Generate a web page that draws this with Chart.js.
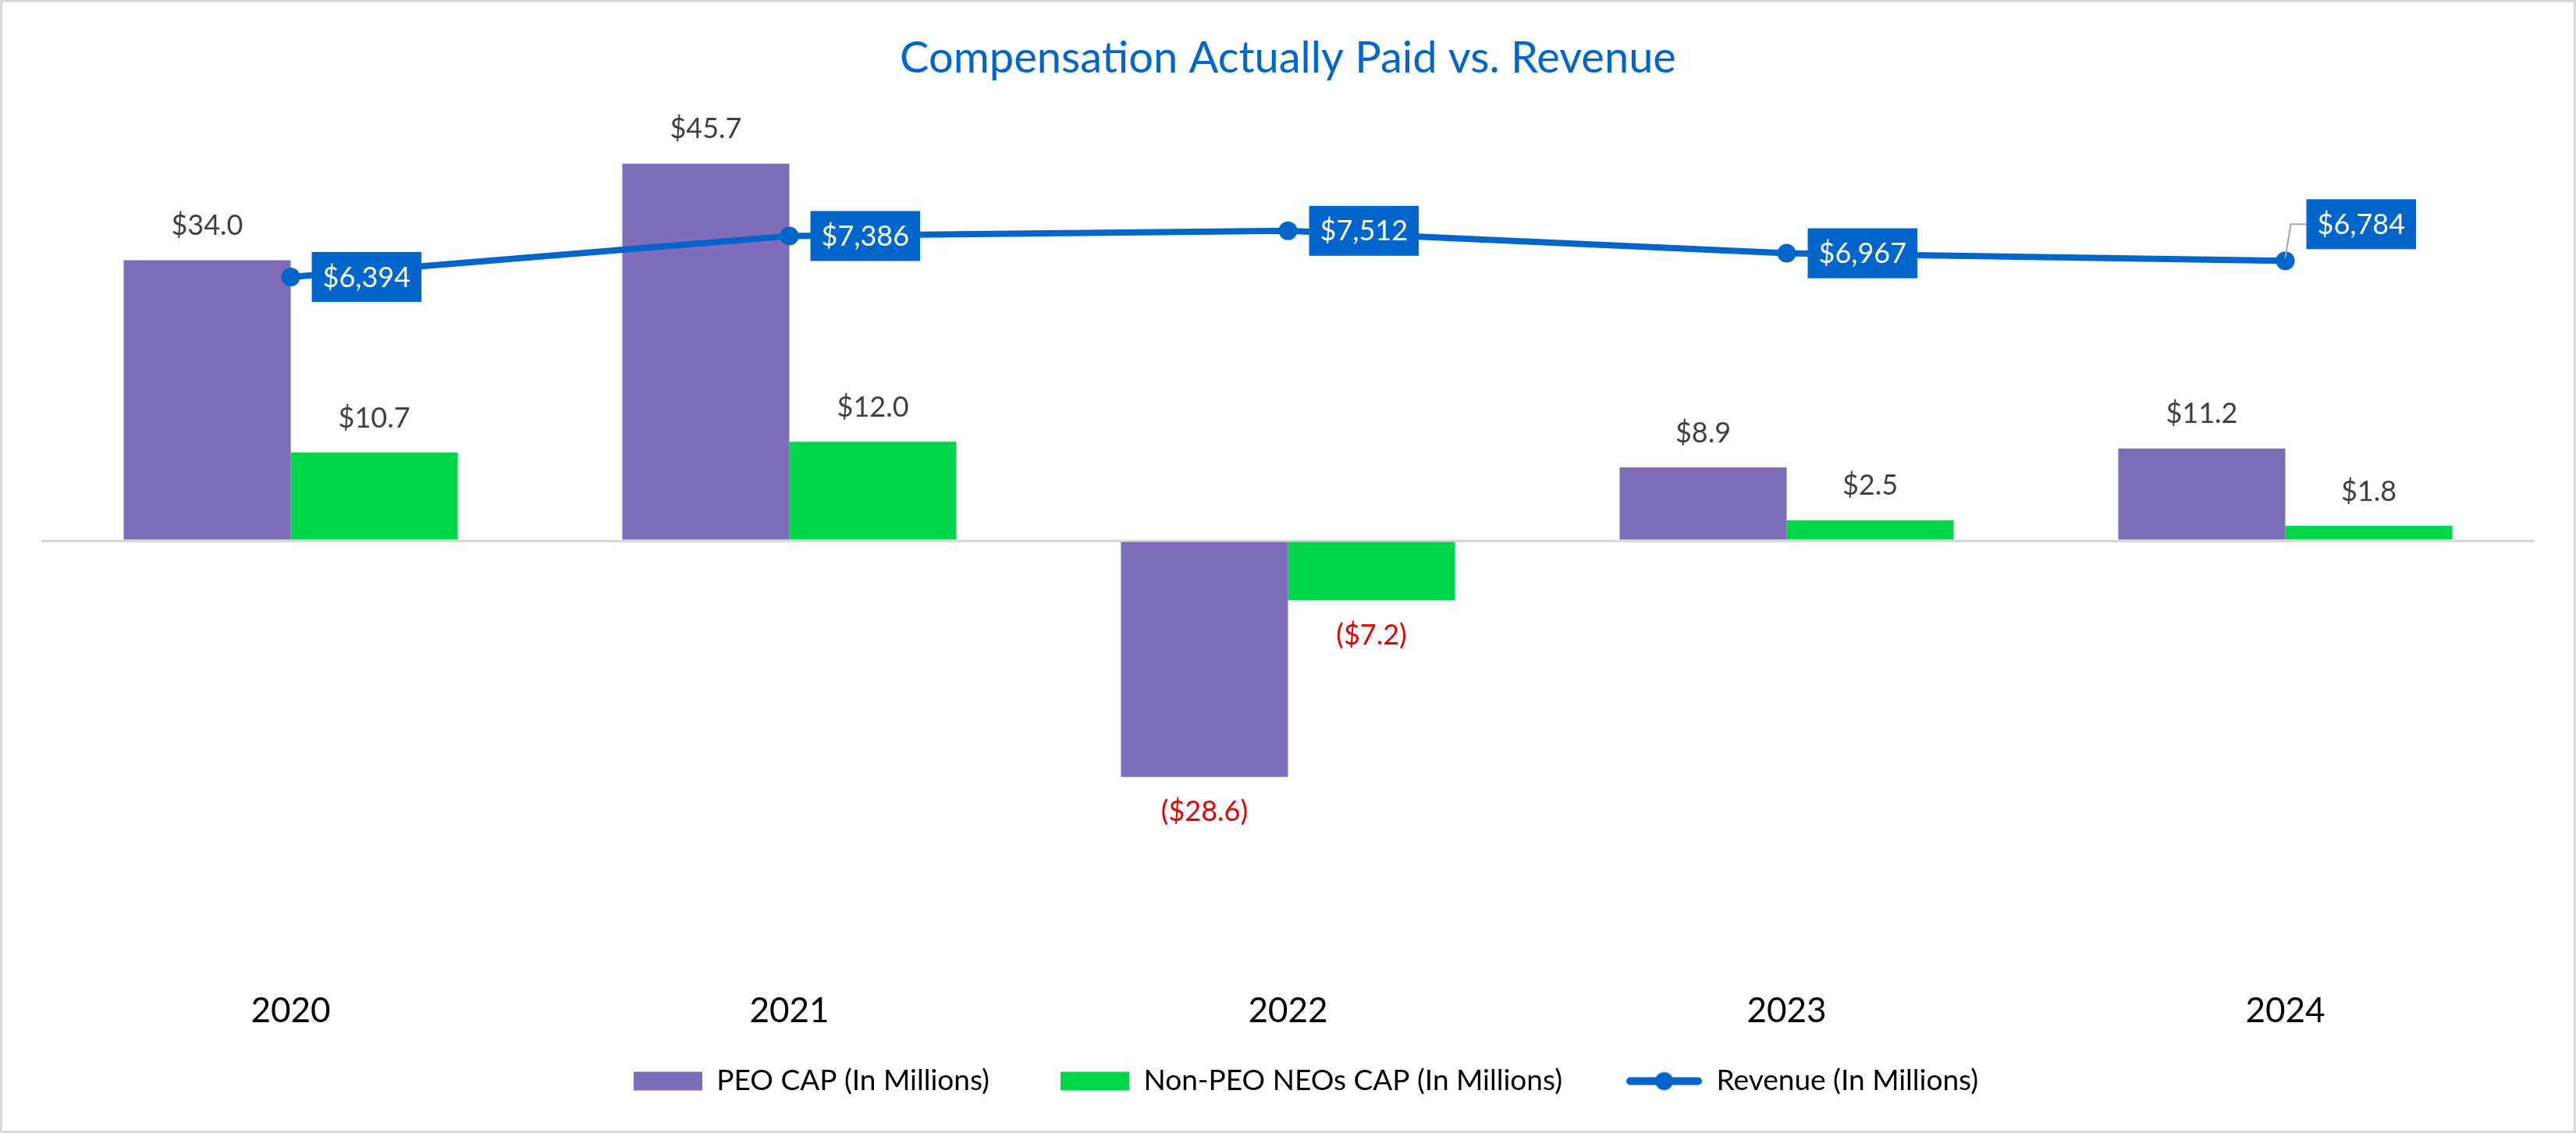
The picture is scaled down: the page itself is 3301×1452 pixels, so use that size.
<!DOCTYPE html>
<html lang="en">
  <head>
    <meta charset="UTF-8" />
    <title>Compensation Actually Paid vs. Revenue</title>
    <style>
      html,
      body {
        margin: 0;
        padding: 0;
        background: #ffffff;
      }

      .frame {
        width: 3301px;
        height: 1452px;
        box-sizing: border-box;
        border: 3px solid #d9d9d9;
        background: #ffffff;
      }

      .chart-box {
        position: relative;
        width: 3295px;
        height: 1446px;
      }
    </style>
    <script src="https://cdn.jsdelivr.net/npm/chart.js"></script>
  </head>
  <body>
    <div class="frame">
      <div class="chart-box">
        <canvas id="capChart"></canvas>
      </div>
    </div>
    <script>
      // values
      const years = ["2020", "2021", "2022", "2023", "2024"];
      const peoCap = [34.0, 45.7, -28.6, 8.9, 11.2];
      const neoCap = [10.7, 12.0, -7.2, 2.5, 1.8];
      const revenue = [6394, 7386, 7512, 6967, 6784];

      const seriesNames = [
        "PEO CAP (In Millions)",
        "Non-PEO NEOs CAP (In Millions)",
        "Revenue (In Millions)",
      ];

      const purple = "#7F6DBB";
      const green = "#00D64A";
      const blue = "#0066CC";
      const fontName = "Lato, 'Open Sans', sans-serif";

      // legend keys: the key sits at the right end of a wider image,
      // the empty left part gives the wider gap between legend entries
      const KEY_W = 134;

      function rectKey(color) {
        const c = document.createElement("canvas");
        c.width = KEY_W;
        c.height = 26;
        const g = c.getContext("2d");
        g.fillStyle = color;
        g.fillRect(KEY_W - 88, 1, 88, 24);
        return c;
      }

      function lineKey(color) {
        const c = document.createElement("canvas");
        c.width = KEY_W;
        c.height = 26;
        const g = c.getContext("2d");
        const x0 = KEY_W - 97;
        g.strokeStyle = color;
        g.lineWidth = 10;
        g.lineCap = "round";
        g.beginPath();
        g.moveTo(x0 + 5, 13);
        g.lineTo(KEY_W - 5, 13);
        g.stroke();
        g.fillStyle = color;
        g.beginPath();
        g.arc(x0 + 48.5, 13, 11.5, 0, Math.PI * 2);
        g.fill();
        return c;
      }

      const legendKeys = [rectKey(purple), rectKey(green), lineKey(blue)];

      function money(v) {
        const s = "$" + Math.abs(v).toFixed(1);
        return v < 0 ? "(" + s + ")" : s;
      }

      const labelPlugin = {
        id: "valueLabels",
        afterDatasetsDraw(chart) {
          const ctx = chart.ctx;
          ctx.save();
          ctx.font = "36px " + fontName;
          ctx.textAlign = "center";
          ctx.textBaseline = "middle";

          [0, 1].forEach((di) => {
            const vals = di === 0 ? peoCap : neoCap;
            chart.getDatasetMeta(di).data.forEach((bar, i) => {
              const v = vals[i];
              ctx.fillStyle = v < 0 ? "#E60000" : "#404040";
              const y = v < 0 ? bar.y + 45 : bar.y - 44;
              ctx.fillText(money(v), bar.x, y);
            });
          });

          // revenue call-outs
          chart.getDatasetMeta(2).data.forEach((pt, i) => {
            const text = "$" + revenue[i].toLocaleString("en-US");
            const w = ctx.measureText(text).width + 28;
            const h = 64;
            const left = pt.x + 27;
            let cy = pt.y;
            if (i === revenue.length - 1) {
              cy = pt.y - 47;
              ctx.strokeStyle = "#A6A6A6";
              ctx.lineWidth = 2;
              ctx.beginPath();
              ctx.moveTo(pt.x, pt.y - 4);
              ctx.lineTo(pt.x + 7, cy);
              ctx.lineTo(left, cy);
              ctx.stroke();
            }
            ctx.fillStyle = blue;
            ctx.fillRect(left, cy - h / 2, w, h);
            ctx.fillStyle = "#ffffff";
            ctx.fillText(text, left + w / 2, cy + 1);
          });
          ctx.restore();
        },
      };

      new Chart(document.getElementById("capChart").getContext("2d"), {
        type: "bar",
        data: {
          labels: years,
          datasets: [
            {
              label: seriesNames[0],
              data: peoCap,
              backgroundColor: purple,
              yAxisID: "y",
              order: 2,
            },
            {
              label: seriesNames[1],
              data: neoCap,
              backgroundColor: green,
              yAxisID: "y",
              order: 2,
            },
            {
              type: "line",
              label: seriesNames[2],
              data: revenue,
              borderColor: blue,
              backgroundColor: blue,
              borderWidth: 8,
              pointRadius: 12,
              pointBorderWidth: 0,
              pointBackgroundColor: blue,
              tension: 0,
              yAxisID: "y1",
              order: 1,
            },
          ],
        },
        options: {
          responsive: true,
          maintainAspectRatio: false,
          devicePixelRatio: 1,
          animation: false,
          datasets: {
            bar: { categoryPercentage: 0.67, barPercentage: 1.0 },
          },
          layout: {
            padding: { left: 50, right: 50, top: 0, bottom: 35 },
          },
          plugins: {
            title: {
              display: true,
              text: "Compensation Actually Paid vs. Revenue",
              color: blue,
              font: { family: fontName, size: 56, weight: "normal", lineHeight: 1.2 },
              padding: { top: 38, bottom: 56 },
            },
            legend: {
              position: "bottom",
              labels: {
                usePointStyle: true,
                pointStyleWidth: KEY_W,
                padding: 45,
                color: "#595959",
                font: { family: fontName, size: 37 },
                generateLabels(chart) {
                  return chart.data.datasets.map((ds, i) => ({
                    text: ds.label,
                    pointStyle: legendKeys[i],
                    fillStyle: ds.backgroundColor,
                    strokeStyle: ds.backgroundColor,
                    lineWidth: 0,
                    hidden: false,
                    datasetIndex: i,
                  }));
                },
              },
            },
            tooltip: { enabled: false },
          },
          scales: {
            x: {
              grid: { display: false },
              border: { display: false },
              ticks: {
                color: "#000000",
                padding: 44,
                font: { family: fontName, size: 44, lineHeight: 1.0 },
              },
              afterFit(axis) {
                axis.height = 100;
              },
            },
            y: {
              position: "left",
              min: -50,
              max: 50,
              ticks: { display: false, stepSize: 10 },
              border: { display: false },
              grid: {
                drawTicks: false,
                lineWidth: 3,
                color: (c) => (c.tick && c.tick.value === 0 ? "#D9D9D9" : "rgba(0,0,0,0)"),
              },
            },
            y1: {
              display: false,
              position: "right",
              min: -10000,
              max: 10000,
            },
          },
        },
        plugins: [labelPlugin],
      });
    </script>
  </body>
</html>
